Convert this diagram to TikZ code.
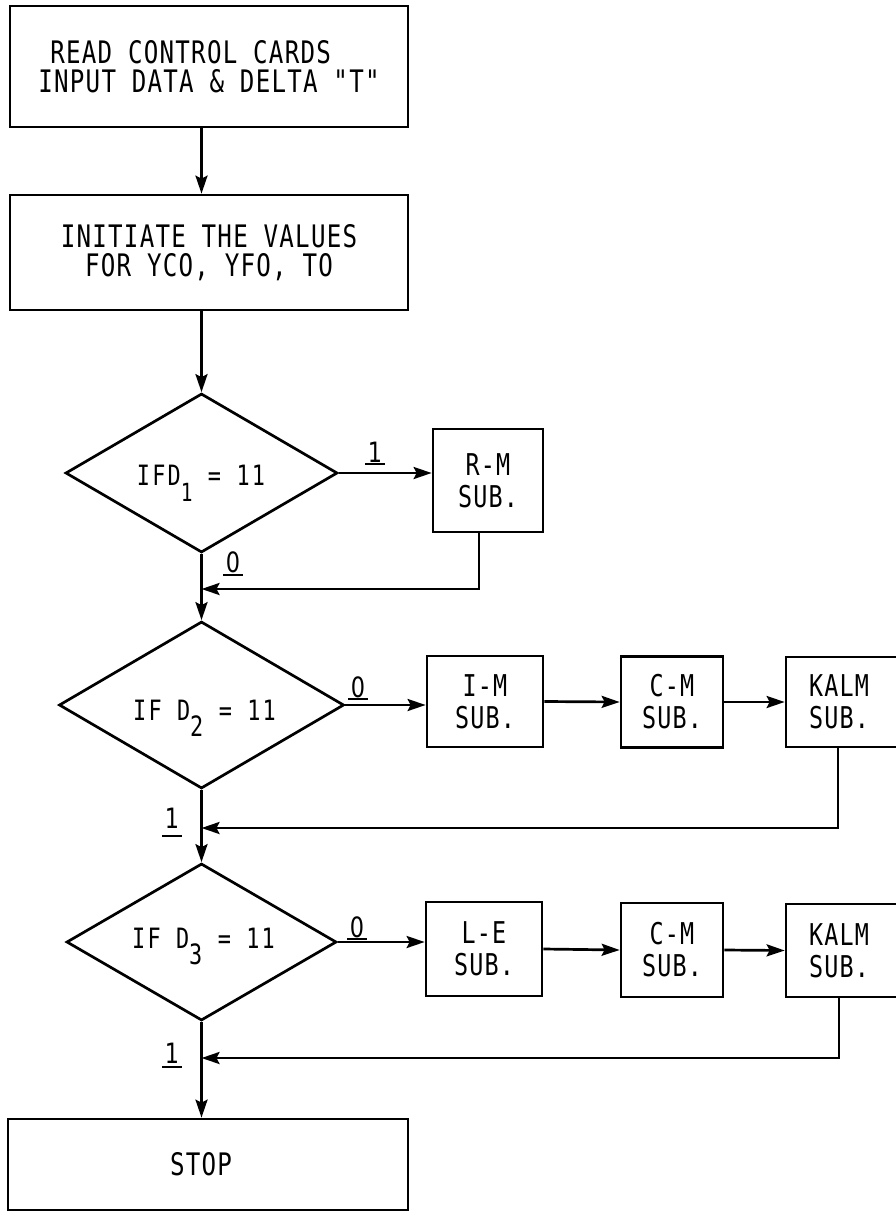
\documentclass[tikz,border=0pt]{standalone}
\usepackage{fontspec}
\newfontfamily\typer{DejaVu Sans Mono}[FakeStretch=0.78, LetterSpace=4]
\newfontfamily\typerwide{DejaVu Sans Mono}[FakeStretch=0.78, LetterSpace=8]
\newfontfamily\digits{DejaVu Sans}[FakeStretch=0.8]
\usetikzlibrary{shapes.geometric,arrows.meta}
% lowered index digit used in the decision boxes
\newcommand\lowsub[1]{\raisebox{-16pt}{#1}}
% underlined branch value: rule a few points under the digit
\newcommand\branch[2]{\makebox[0pt]{\raisebox{-#2}{\rule{20pt}{1.8pt}}}\makebox[0pt]{#1}}
\begin{document}
\begin{tikzpicture}[x=1pt,y=-1pt,
  line width=2.7pt,
  every node/.style={font=\typer\fontsize{31}{29}\selectfont},
  bigbox/.style={draw, rectangle, align=center, inner sep=0pt},
  subbox/.style={draw, rectangle, align=center, inner sep=0pt,
                 font=\typer\fontsize{30}{32}\selectfont},
  test/.style={draw, diamond, inner sep=0pt},
  testtext/.style={anchor=base, inner sep=0pt,
                   font=\typerwide\fontsize{28}{28}\selectfont},
  flow/.style={-{Stealth[length=18pt,width=12pt,inset=3pt]}},
  lbl/.style={anchor=base, inner sep=0pt,
              font=\digits\fontsize{28}{28}\selectfont}
]
\useasboundingbox (0,0) rectangle (895,1213);

% main spine of the chart
\coordinate (spine) at (201.5,0);

% blocks
\node[bigbox, align=left, minimum width=398, minimum height=121] (read) at (209,66.5)
  {\hspace*{12pt}READ CONTROL CARDS\\INPUT DATA \& DELTA "T"};
\node[bigbox, font=\typer\fontsize{31}{33}\selectfont,
      minimum width=398, minimum height=115] (init) at (209,252.5)
  {\raisebox{-4pt}{INITIATE THE VALUES}\\FOR YCO, YFO, TO};

\node[test, minimum width=272, minimum height=159] (d1) at (201.5,473) {};
\node[testtext] (d1t) at (201,485) {IFD\lowsub{\fontsize{25}{25}\selectfont 1} = 11};
\node[subbox, minimum width=110, minimum height=103] (rm) at (488,480.5)
  {R-M\\SUB.};

\node[test, minimum width=285, minimum height=167] (d2) at (201.5,705) {};
\node[testtext] (d2t) at (204.5,720) {IF D\lowsub{2} = 11};
\node[subbox, minimum width=116, minimum height=91] (im) at (485,701.5)
  {I-M\\SUB.};
\node[subbox, minimum width=102, minimum height=91] (cma) at (672,702)
  {C-M\\SUB.};
\node[subbox, minimum width=112, minimum height=90] (kalma) at (842,702)
  {\hspace*{-6pt}KALM\\\hspace*{-6pt}SUB.};

\node[test, minimum width=270, minimum height=157] (d3) at (201.5,942) {};
\node[testtext] (d3t) at (203.5,948) {IF D\lowsub{3} = 11};
\node[subbox, minimum width=116, minimum height=94] (le) at (484,949)
  {L-E\\SUB.};
\node[subbox, minimum width=102, minimum height=94] (cmb) at (672,950)
  {C-M\\SUB.};
\node[subbox, minimum width=112, minimum height=93] (kalmb) at (842,950.5)
  {\hspace*{-6pt}KALM\\\hspace*{-6pt}SUB.};

\node[bigbox, minimum width=400, minimum height=91] (stop) at (208,1164.5)
  {\hspace*{-14pt}STOP};

% junctions on the spine
\coordinate (j1) at (201.5,589);
\coordinate (j2) at (201.5,828);
\coordinate (j3) at (201.5,1058);

% branch labels
\node[lbl] (l1) at (375,462) {\branch{1}{3pt}};
\node[lbl] (l2) at (233,572) {\branch{0}{4pt}};
\node[lbl] (l3) at (358,697) {\branch{0}{3pt}};
\node[lbl] (l4) at (172,828) {\branch{1}{9pt}};
\node[lbl] (l5) at (357,937) {\branch{0}{3pt}};
\node[lbl] (l6) at (172,1063) {\branch{1}{5pt}};

% connectors
\draw[flow] (read.south -| spine) -- (init.north -| spine);
\draw[flow] (init.south -| spine) -- (d1.north);
\draw[flow] (d1.east) -- (d1.east -| rm.west);
\draw[flow] ([xshift=-9pt]rm.south) |- (j1);
\draw[flow] (d1.south) -- (d2.north);

\draw[flow] (d2.east) -- (d2.east -| im.west);
\draw[flow] (im.east) -- (cma.west);
\draw[flow] (cma.east) -- (kalma.west);
\draw[flow] ([xshift=-4pt]kalma.south) |- (j2);
\draw[flow] (d2.south) -- (d3.north);

\draw[flow] (d3.east) -- (d3.east -| le.west);
\draw[flow] (le.east) -- (cmb.west);
\draw[flow] (cmb.east) -- (kalmb.west);
\draw[flow] ([xshift=-3pt]kalmb.south) |- (j3);
\draw[flow] (d3.south) -- (stop.north -| spine);
\end{tikzpicture}
\end{document}
